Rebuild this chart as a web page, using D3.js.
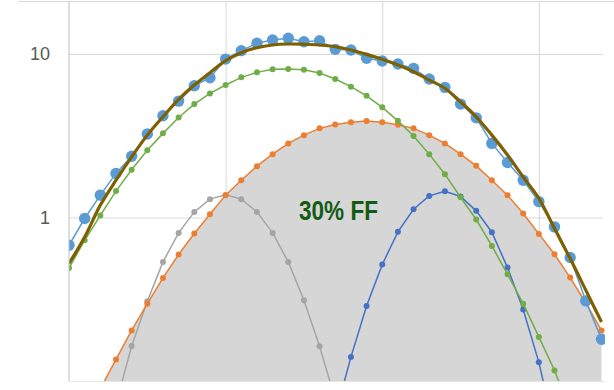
<!DOCTYPE html>
<html>
<head>
<meta charset="utf-8">
<script src="https://cdn.jsdelivr.net/npm/d3@7"></script>
<style>
  html, body { margin: 0; padding: 0; background: #fff; }
  svg { display: block; }
</style>
</head>
<body>
<svg id="chart" width="614" height="390"></svg>
<script>
// Sample positions along the horizontal axis
const steps = [0,1,2,3,4,5,6,7,8,9,10,11,12,13,14,15,16,17,18,19,20,21,22,23,24,25,26,27,28,29,30,31,32,33,34];

// Measured total (large markers)
const measured = [0.676,0.986,1.37,1.86,2.37,3.24,4.19,5.15,6.39,7.16,9.31,10.48,11.63,12.18,12.48,11.89,12.06,10.68,10.58,9.41,9.06,8.69,8.17,7.03,6.25,4.94,4.07,2.84,2.17,1.69,1.25,0.876,0.569,0.309,0.180];

// Fitted total (thick line)
const fitted = [0.523,0.760,1.19,1.69,2.35,3.19,4.13,5.28,6.46,7.68,9.10,10.19,10.93,11.35,11.51,11.47,11.35,11.08,10.58,9.95,9.28,8.56,7.79,6.93,6.17,5.10,4.13,3.19,2.41,1.77,1.31,0.856,0.561,0.359,0.2295];

// Component curves
const compGreen = [0.491,0.726,1.03,1.45,1.96,2.58,3.27,4.09,4.94,5.74,6.46,7.20,7.72,8.06,8.09,8.01,7.65,7.03,6.31,5.55,4.72,3.90,3.15,2.44,1.84,1.33,0.972,0.670,0.449,0.297,0.186,0.116,0.066,null,null];
const compOrange = [null,null,0.0895,0.1356,0.204,0.297,0.427,0.594,0.798,1.048,1.37,1.69,2.06,2.44,2.84,3.19,3.51,3.71,3.83,3.89,3.83,3.69,3.51,3.19,2.84,2.44,2.07,1.69,1.37,1.058,0.794,0.596,0.429,0.300,0.204];
const compGray = [null,null,null,0.072,0.1636,0.307,0.535,0.805,1.082,1.295,1.375,1.295,1.082,0.805,0.535,0.312,0.163,0.077,null,null,null,null,null,null,null,null,null,null,null,null,null,null,null,null,null];
const compBlue = [null,null,null,null,null,null,null,null,null,null,null,null,null,null,null,null,null,0.062,0.140,0.2874,0.515,0.817,1.124,1.356,1.449,1.345,1.098,0.813,0.494,0.274,0.130,0.050,null,null,null];

// Axis ticks
const yTicks = [1, 10];
const xGridTicks = [10, 20, 30];
const annotation = "30% FF";

const svg = d3.select("#chart");
const plot = { left: 69, top: 1, right: 605, bottom: 381 };

const x = d3.scaleLinear().domain([0, 34]).range([69, 601.5]);
const y = d3.scaleLog().domain([0.1, 10]).range([381, 54]);

svg.append("defs").append("clipPath").attr("id", "plotClip")
  .append("rect")
  .attr("x", plot.left).attr("y", plot.top)
  .attr("width", plot.right - plot.left).attr("height", plot.bottom - plot.top);

// Top border line
svg.append("line")
  .attr("x1", 18).attr("x2", 614).attr("y1", 1.5).attr("y2", 1.5)
  .attr("stroke", "#d9d9d9").attr("stroke-width", 1);

// Horizontal gridlines with labels
const yAxis = svg.append("g")
  .attr("transform", `translate(${plot.left},0)`)
  .call(d3.axisLeft(y).tickValues(yTicks).tickFormat(d3.format("d"))
    .tickSize(-(603 - plot.left)).tickPadding(19));
yAxis.select(".domain").remove();
yAxis.selectAll(".tick line").attr("stroke", "#d9d9d9").attr("stroke-width", 1);
yAxis.selectAll(".tick text")
  .attr("fill", "#595959")
  .style("font-family", "'Liberation Sans', Arial, sans-serif")
  .style("font-size", "18px");

// Vertical gridlines
const xGrid = svg.append("g")
  .attr("transform", `translate(0,${plot.bottom})`)
  .call(d3.axisBottom(x).tickValues(xGridTicks).tickFormat("")
    .tickSize(-(plot.bottom - plot.top)));
xGrid.select(".domain").remove();
xGrid.selectAll(".tick line").attr("stroke", "#d9d9d9").attr("stroke-width", 1);

const g = svg.append("g").attr("clip-path", "url(#plotClip)");

const pts = arr => steps.map((s, i) => ({ s, v: arr[i] })).filter(d => d.v != null);

// Shaded area under the orange component
const area = d3.area()
  .x(d => x(d.s))
  .y0(plot.bottom)
  .y1(d => y(d.v));
g.append("path")
  .datum(pts(compOrange))
  .attr("d", area)
  .attr("fill", "#d6d6d6");

// Axis lines
svg.append("line")
  .attr("x1", plot.left).attr("x2", plot.left)
  .attr("y1", plot.top).attr("y2", plot.bottom)
  .attr("stroke", "#bfbfbf").attr("stroke-width", 1);
svg.append("line")
  .attr("x1", plot.left).attr("x2", plot.right)
  .attr("y1", plot.bottom + 0.5).attr("y2", plot.bottom + 0.5)
  .attr("stroke", "#e6e6e6").attr("stroke-width", 1);

const line = d3.line().x(d => x(d.s)).y(d => y(d.v));

function series(arr, color, r, width) {
  const data = pts(arr);
  g.append("path")
    .datum(data)
    .attr("d", line)
    .attr("fill", "none")
    .attr("stroke", color)
    .attr("stroke-width", width);
  g.append("g").selectAll("circle")
    .data(data)
    .join("circle")
    .attr("cx", d => x(d.s))
    .attr("cy", d => y(d.v))
    .attr("r", r)
    .attr("fill", color);
}

series(compGray, "#a5a5a5", 3, 1.5);
series(compBlue, "#4472c4", 3, 1.5);
series(compOrange, "#ed7d31", 3, 1.5);
series(compGreen, "#70ad47", 3, 1.5);
series(measured, "#5b9bd5", 5.7, 1.5);

// Fitted curve on top
g.append("path")
  .datum(pts(fitted))
  .attr("d", d3.line().x(d => x(d.s)).y(d => y(d.v)).curve(d3.curveCatmullRom))
  .attr("fill", "none")
  .attr("stroke", "#7f6000")
  .attr("stroke-width", 3.2);

// Annotation
svg.append("text")
  .attr("x", 299).attr("y", 220)
  .attr("fill", "#145a14")
  .style("font-family", "'Liberation Sans', Arial, sans-serif")
  .style("font-weight", "bold")
  .style("font-size", "28px")
  .attr("textLength", 79)
  .attr("lengthAdjust", "spacingAndGlyphs")
  .text(annotation);
</script>
</body>
</html>
